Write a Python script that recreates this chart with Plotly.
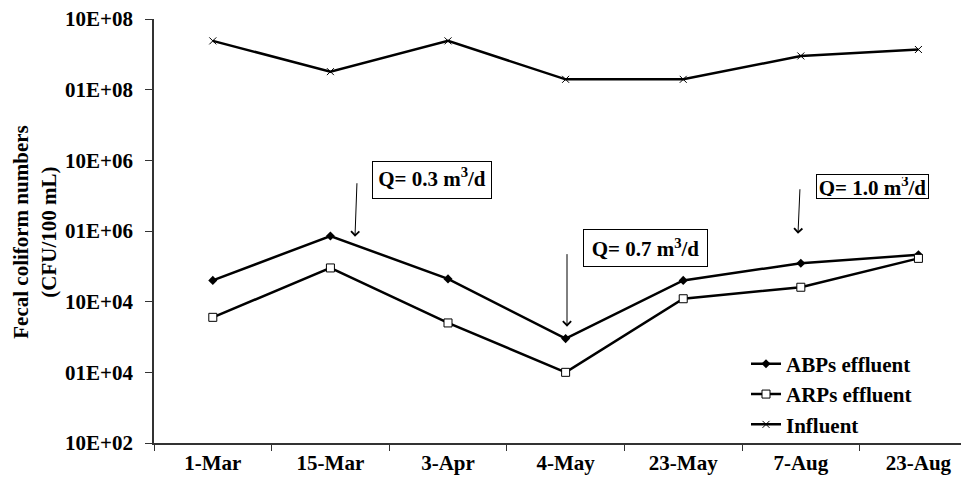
import plotly.graph_objects as go

dates = ["1-Mar", "15-Mar", "3-Apr", "4-May", "23-May", "7-Aug", "23-Aug"]
abps_effluent = [2.0e4, 8.5e4, 2.1e4, 3.0e3, 2.0e4, 3.5e4, 4.6e4]
arps_effluent = [6.0e3, 3.0e4, 5.0e3, 1.0e3, 1.1e4, 1.6e4, 4.1e4]
influent = [4.9e7, 1.8e7, 4.9e7, 1.4e7, 1.4e7, 3.0e7, 3.7e7]

y_tick_vals = [1e2, 1e3, 1e4, 1e5, 1e6, 1e7, 1e8]
y_tick_text = ["10E+02", "01E+04", "10E+04", "01E+06", "10E+06", "01E+08", "10E+08"]

FONT = "Liberation Serif, Times New Roman, serif"
FS = 21
W, H = 969, 480
OFF = 8  # page body margin offset
# screen-coordinate plot area
SX0, SX1, SY0, SY1 = 154, 969, 19, 443.5
L, T = SX0 - OFF, SY0 - OFF
R = W - (SX1 - OFF)
B = H - (SY1 - OFF)
PW, PH = SX1 - SX0, SY1 - SY0


def px(x):
    return (x - SX0) / PW


def py(y):
    return (SY1 - y) / PH


fig = go.Figure()
fig.add_trace(go.Scatter(
    x=dates, y=abps_effluent, name="ABPs effluent", mode="lines+markers",
    line=dict(color="black", width=2.5),
    marker=dict(symbol="diamond", size=7, color="black"),
))
fig.add_trace(go.Scatter(
    x=dates, y=arps_effluent, name="ARPs effluent", mode="lines+markers",
    line=dict(color="black", width=2.5),
    marker=dict(symbol="square", size=8, color="white", line=dict(color="black", width=1)),
))
fig.add_trace(go.Scatter(
    x=dates, y=influent, name="Influent", mode="lines+markers",
    line=dict(color="black", width=2.5),
    marker=dict(symbol="x-thin", size=7, color="black", line=dict(color="black", width=1)),
))

annotations = [
    dict(text="Fecal coliform numbers<br>(CFU/100 mL)", textangle=-90,
         xref="paper", yref="paper", x=px(35), y=py(233), xanchor="center", yanchor="middle",
         showarrow=False, font=dict(family=FONT, size=FS, color="black", weight="bold")),
]

boxes = [
    ("Q= 0.3 m<sup>3</sup>/d", 372, 492, 161, 199, "top"),
    ("Q= 0.7 m<sup>3</sup>/d", 583, 708, 229, 267, "middle"),
    ("Q= 1.0 m<sup>3</sup>/d", 816, 929, 174, 199, "middle"),
]
for text, x0, x1, y0, y1, va in boxes:
    annotations.append(dict(
        text=text, xref="paper", yref="paper", x=px((x0 + x1) / 2), y=py((y0 + y1) / 2),
        xanchor="center", yanchor="middle", showarrow=False,
        width=x1 - x0 - 6, height=y1 - y0 - 6, valign=va, align="center",
        bordercolor="black", borderwidth=1, borderpad=2, bgcolor="white",
        font=dict(family=FONT, size=FS, color="black", weight="bold"),
    ))

arrows = [
    (357, 182, 355, 237),
    (567, 253, 567, 327),
    (800, 188, 798, 234),
]
for sx, sy, ex, ey in arrows:
    annotations.append(dict(
        text="", xref="paper", yref="paper", x=px(ex), y=py(ey),
        axref="pixel", ayref="pixel", ax=sx - ex, ay=sy - ey,
        showarrow=True, arrowhead=4, arrowsize=1.6, arrowwidth=1, arrowcolor="black",
    ))

fig.update_layout(
    width=W, height=H,
    margin=dict(l=L, r=R, t=T, b=B, pad=0, autoexpand=False),
    paper_bgcolor="white", plot_bgcolor="white",
    showlegend=True,
    legend=dict(
        x=px(746), y=py(344), xanchor="left", yanchor="top",
        bgcolor="rgba(0,0,0,0)", itemwidth=30, tracegroupgap=0,
        font=dict(family=FONT, size=FS, color="black", weight="bold"),
    ),
    annotations=annotations,
    xaxis=dict(
        type="category", range=[-0.5, 6.43], tickson="boundaries", automargin=False,
        ticks="outside", ticklen=6, tickcolor="#333", showline=True, linecolor="#333",
        linewidth=1.5, showgrid=False, zeroline=False, ticklabeloverflow="allow",
        tickfont=dict(family=FONT, size=FS, color="black", weight="bold"),
    ),
    xaxis2=dict(
        overlaying="x", anchor="y", range=[-0.5, 6.43], automargin=False,
        tickvals=[0.5, 1.5, 2.5, 3.5, 4.5, 5.5],
        ticks="inside", ticklen=6, tickcolor="#333", showticklabels=False,
        showline=False, showgrid=False, zeroline=False,
    ),
    yaxis=dict(
        type="log", range=[2, 8], tickvals=y_tick_vals, ticktext=y_tick_text,
        automargin=False,
        ticks="outside", ticklen=7, tickcolor="#333", showline=True, linecolor="#333",
        linewidth=1.5, showgrid=False, zeroline=False,
        ticklabeloverflow="allow", ticklabelstandoff=8,
        tickfont=dict(family=FONT, size=FS, color="black", weight="bold"),
    ),
)

fig.write_html("out.html")
